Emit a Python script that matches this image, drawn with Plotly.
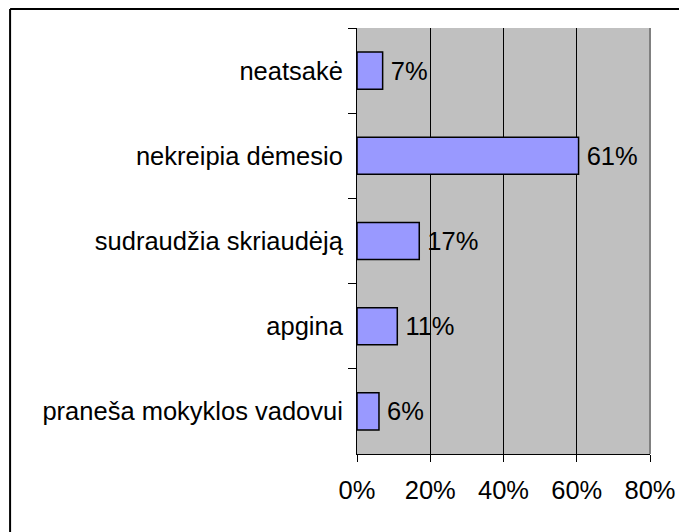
import plotly.graph_objects as go

# atsakymų kategorijos (iš viršaus į apačią) ir dalys
kategorijos = ['neatsakė', 'nekreipia dėmesio', 'sudraudžia skriaudėją', 'apgina', 'praneša mokyklos vadovui']
dalys = [0.07, 0.605, 0.17, 0.11, 0.06]
etiketes = ['7%', '61%', '17%', '11%', '6%']
x_ticks = [0, 0.2, 0.4, 0.6, 0.8]
x_tick_text = ['0%', '20%', '40%', '60%', '80%']

fig = go.Figure()
fig.add_trace(go.Bar(
    x=dalys, y=kategorijos, orientation='h',
    marker=dict(color='#9999FF', line=dict(color='black', width=1.5)),
    text=['\u2009' + t for t in etiketes], textposition='outside',
    constraintext='none', cliponaxis=False,
    textfont=dict(color='black', size=25.5),
    showlegend=False,
))

# puslapio body turi 8px paraštę, todėl viskas pastumta 8px kairėn/aukštyn
fig.update_layout(
    width=687, height=532,
    margin=dict(l=349, r=45, t=20, b=86),
    paper_bgcolor='white', plot_bgcolor='#C0C0C0',
    font=dict(family='Arial, Liberation Sans, sans-serif', size=25.5, color='black'),
    bargap=0.565,
)
fig.update_xaxes(
    range=[0, 0.8], tickvals=x_ticks, ticktext=x_tick_text,
    showgrid=True, gridcolor='black', gridwidth=1,
    showline=True, linecolor='black', linewidth=1,
    ticks='outside', ticklen=7, tickcolor='black', zeroline=False,
    ticklabelstandoff=6,
)
fig.update_yaxes(
    categoryorder='array', categoryarray=kategorijos, autorange='reversed',
    showline=True, linecolor='black', linewidth=1,
    ticks='outside', ticklen=8, tickcolor='black', tickson='boundaries',
    ticklabelstandoff=8, showgrid=False,
)

# pilkas dešinysis krašto rėmas ir išorinis rėmelis
fig.add_shape(type='line', xref='paper', yref='paper', x0=1, x1=1, y0=0, y1=1,
              line=dict(color='#808080', width=2), layer='above')
fig.add_shape(type='line', xref='paper', yref='paper', x0=-1.184, x1=1.3, y0=1.0446, y1=1.0446,
              line=dict(color='black', width=2))
fig.add_shape(type='line', xref='paper', yref='paper', x0=-1.184, x1=-1.184, y0=1.0446, y1=-0.3,
              line=dict(color='black', width=2))

fig.write_html("out.html")
